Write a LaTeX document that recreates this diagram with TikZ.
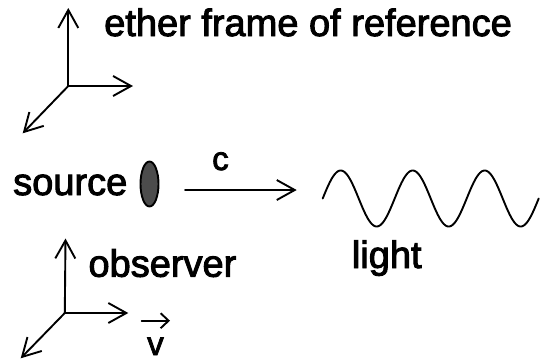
\documentclass[tikz,border=0pt]{standalone}
\usepackage{fontspec}
\setmainfont[BoldFont={Liberation Sans},BoldFeatures={FakeBold=2.5}]{Liberation Sans}
\usetikzlibrary{arrows.meta,shapes.geometric}
\begin{document}
\begin{tikzpicture}[x=1pt,y=-1pt,
  ln/.style={line width=1.9pt,line cap=round,line join=round},
  ax/.style={ln,-{Straight Barb[length=18pt,width=20pt,line width=1.9pt]}},
  vx/.style={ln,-{Straight Barb[length=8pt,width=15pt,line width=1.9pt]}},
  lbl/.style={inner sep=0pt,anchor=base west,font=\fontsize{38}{40}\selectfont\bfseries},
  sml/.style={inner sep=0pt,anchor=base west,font=\fontsize{33}{35}\selectfont\bfseries}]
\useasboundingbox (0,0) rectangle (540,362);
% ether axes
\coordinate (eo) at (68.3,86);
\coordinate (eu) at (68.3,8);
\coordinate (er) at (133,86);
\coordinate (ed) at (22.7,133.3);
\draw[ax] (eo) -- (eu);
\draw[ax] (eo) -- (er);
\draw[ax] (eo) -- (ed);
\node[lbl] (ether) at (104,36) {ether frame of reference};
% source
\node[lbl] (source) at (13,195) {source};
\node[draw,ln,fill=black!70,shape=ellipse,minimum width=18pt,minimum height=45pt,inner sep=0pt] (src) at (149.5,184) {};
\coordinate (cs) at (185,190);
\coordinate (ce) at (296.7,190);
\draw[ax] (cs) -- (ce);
\node[sml] (c) at (212,170) {c};
% light wave
\draw[ln] plot[domain=0:1080,samples=240] ({322.7+\x/360*72},{198.5-28*sin(\x)});
\node[lbl] (light) at (351.7,268) {light};
% observer axes
\coordinate (oo) at (64.8,313);
\coordinate (ou) at (65.5,238.5);
\coordinate (or) at (128.3,313);
\coordinate (od) at (20.7,358.3);
\draw[ax] (oo) -- (ou);
\draw[ax] (oo) -- (or);
\draw[ax] (oo) -- (od);
\node[lbl] (observer) at (88.3,276.7) {observer};
\coordinate (vs) at (141.7,320.7);
\coordinate (ve) at (170,320.7);
\draw[vx] (vs) -- (ve);
\node[sml] (v) at (147,355) {v};
\end{tikzpicture}
\end{document}
